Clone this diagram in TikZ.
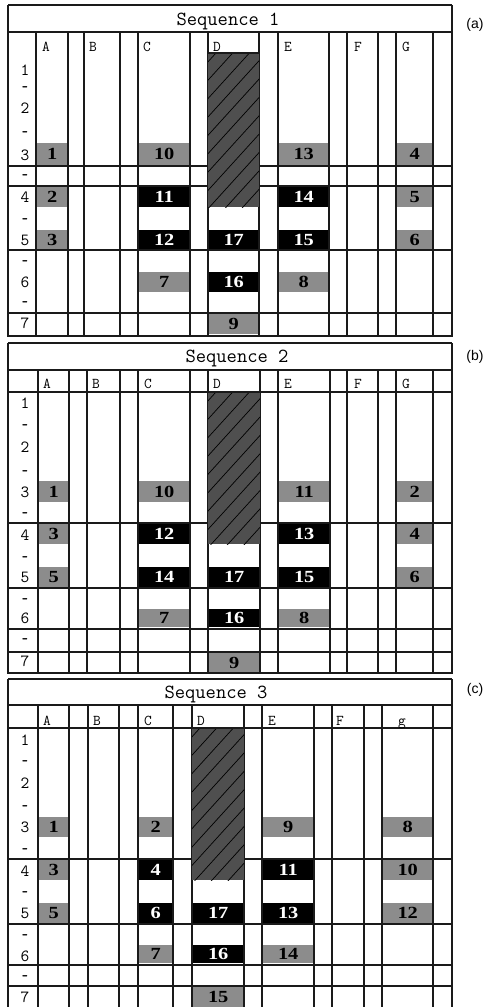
\documentclass[tikz,border=0pt]{standalone}
\usepackage{fontspec}
\setmainfont{Liberation Serif}
\newfontfamily\sansf{Liberation Sans}
\definecolor{cellgray}{HTML}{8C8C8C}
\definecolor{hatchgray}{HTML}{4F4F4F}
\definecolor{linecol}{HTML}{1A1A1A}
\tikzset{
 gridline/.style={draw=linecol, line width=1.1pt},
 borderline/.style={draw=linecol, line width=2pt},
 cellbase/.style={anchor=north west, inner sep=0pt, font=\fontsize{17}{17}\selectfont\bfseries},
 graycell/.style={cellbase, fill=cellgray, text=black},
 blackcell/.style={cellbase, fill=black, text=white},
 rowlab/.style={font=\ttfamily\fontsize{17}{17}\selectfont, text height=10.5pt, text depth=0pt, inner sep=0pt},
 collab/.style={font=\ttfamily\fontsize{15}{15}\selectfont, anchor=base west, inner sep=0pt},
 titletext/.style={font=\ttfamily\fontsize{20}{20}\selectfont, inner sep=0pt, anchor=base},
 panellab/.style={font=\sansf\fontsize{14}{14}\selectfont, inner sep=0pt},
}
\newcommand\dsh{\scalebox{0.7}[1.2]{-}}
\newcommand\mkcell[7]{\node[#1, minimum width={#4pt-#3pt}, minimum height={#6pt-#5pt}] (#2) at (#3,#5) {\scalebox{1.2}[1]{#7}};}
\newcommand\mkhatch[4]{%
 \begin{scope}
 \clip (#1,#3) rectangle (#2,#4);
 \fill[hatchgray] (#1,#3) rectangle (#2,#4);
 \foreach \k in {0,...,16} \draw[black, line width=0.7pt] ({#1+8+\k*16.7},#3) -- ++(-180,198);
 \end{scope}
 \draw[gridline] (#1,#3) -- (#2,#3);}
\begin{document}
\begin{tikzpicture}[x=1pt,y=-1pt]
\useasboundingbox (0,0) rectangle (487,1007);
\clip (0,0) rectangle (487,1007);

% ================= Panel 1 =================
\mkcell{graycell}{p1a3}{36}{68}{143}{165}{1}
\mkcell{graycell}{p1a4}{36}{68}{187}{207}{2}
\mkcell{graycell}{p1a5}{36}{68}{230}{249}{3}
\mkcell{graycell}{p1c3}{138}{190}{143}{165}{10}
\mkcell{blackcell}{p1c4}{138}{190}{187}{207}{11}
\mkcell{blackcell}{p1c5}{138}{190}{230}{249}{12}
\mkcell{graycell}{p1c6}{138}{190}{272}{292}{7}
\mkcell{blackcell}{p1d5}{208}{259}{230}{249}{17}
\mkcell{blackcell}{p1d6}{208}{259}{272}{292}{16}
\mkcell{graycell}{p1d7}{208}{259}{314}{334}{9}
\mkcell{graycell}{p1e3}{278}{329}{143}{165}{13}
\mkcell{blackcell}{p1e4}{278}{329}{187}{207}{14}
\mkcell{blackcell}{p1e5}{278}{329}{230}{249}{15}
\mkcell{graycell}{p1e6}{278}{329}{272}{292}{8}
\mkcell{graycell}{p1g3}{396}{433}{143}{165}{4}
\mkcell{graycell}{p1g4}{396}{433}{187}{207}{5}
\mkcell{graycell}{p1g5}{396}{433}{230}{249}{6}
\draw[gridline] (8,32) -- (452,32);
\foreach \x in {36,68,84,120,138,190,208,259,278,329,347,378,396,433} \draw[gridline] (\x,32) -- (\x,336);
\foreach \y in {166,186,250,313} \draw[gridline] (8,\y) -- (452,\y);
\draw[gridline, line width=1.5pt] (8,5) -- (452,5);
\draw[borderline] (8,5) -- (8,336) -- (452,336) -- (452,5);
\mkhatch{208}{259}{53}{207}
\node[titletext] (title1) at (228,25) {Sequence 1};
\node[panellab] (laba) at (475,25) {(a)};
\foreach \t/\x [count=\i] in {A/42,B/89,C/143,D/213,E/284,F/354,G/402} \node[collab] (p1col\i) at (\x,51) {\t};
\foreach \t/\y [count=\i] in {1/70,\dsh/88,2/108,\dsh/133,3/155,\dsh/176,4/197,\dsh/220,5/240,\dsh/262,6/282,\dsh/303,7/323} \node[rowlab] (p1row\i) at (25,\y) {\t};

% ================= Panel 2 =================
\mkcell{graycell}{p2a3}{38}{69}{481}{502}{1}
\mkcell{graycell}{p2a4}{38}{69}{524}{544}{3}
\mkcell{graycell}{p2a5}{38}{69}{567}{587}{5}
\mkcell{graycell}{p2c3}{138}{190}{481}{502}{10}
\mkcell{blackcell}{p2c4}{138}{190}{524}{544}{12}
\mkcell{blackcell}{p2c5}{138}{190}{567}{587}{14}
\mkcell{graycell}{p2c6}{138}{190}{609}{627}{7}
\mkcell{blackcell}{p2d5}{208}{260}{567}{587}{17}
\mkcell{blackcell}{p2d6}{208}{260}{609}{627}{16}
\mkcell{graycell}{p2d7}{208}{260}{653}{672}{9}
\mkcell{graycell}{p2e3}{278}{330}{481}{502}{11}
\mkcell{blackcell}{p2e4}{278}{330}{524}{544}{13}
\mkcell{blackcell}{p2e5}{278}{330}{567}{587}{15}
\mkcell{graycell}{p2e6}{278}{330}{609}{627}{8}
\mkcell{graycell}{p2g3}{396}{433}{481}{502}{2}
\mkcell{graycell}{p2g4}{396}{433}{524}{544}{4}
\mkcell{graycell}{p2g5}{396}{433}{567}{587}{6}
\draw[gridline] (8,370) -- (452,370);
\foreach \x in {38,69,87,120,138,190,208,260,278,330,347,378,396,433} \draw[gridline] (\x,370) -- (\x,673);
\foreach \y in {392,523,588,629,652} \draw[gridline] (8,\y) -- (452,\y);
\draw[gridline, line width=1.5pt] (8,343) -- (452,343);
\draw[borderline] (8,343) -- (8,673) -- (452,673) -- (452,343);
\mkhatch{208}{260}{392}{544}
\node[titletext] (title2) at (237,362) {Sequence 2};
\node[panellab] (labb) at (475,357) {(b)};
\foreach \t/\x [count=\i] in {A/43,B/92,C/144,D/213,E/284,F/354,G/402} \node[collab] (p2col\i) at (\x,388) {\t};
\foreach \t/\y [count=\i] in {1/403,\dsh/426,2/447,\dsh/472,3/492,\dsh/514,4/535,\dsh/558,5/577,\dsh/600,6/618,\dsh/640,7/661} \node[rowlab] (p2row\i) at (25,\y) {\t};

% ================= Panel 3 =================
\mkcell{graycell}{p3a3}{38}{69}{817}{837}{1}
\mkcell{graycell}{p3a4}{38}{69}{860}{880}{3}
\mkcell{graycell}{p3a5}{38}{69}{903}{923}{5}
\mkcell{graycell}{p3c3}{138}{173}{817}{837}{2}
\mkcell{blackcell}{p3c4}{138}{173}{860}{880}{4}
\mkcell{blackcell}{p3c5}{138}{173}{903}{923}{6}
\mkcell{graycell}{p3c6}{138}{173}{945}{963}{7}
\mkcell{blackcell}{p3d5}{192}{244}{903}{923}{17}
\mkcell{blackcell}{p3d6}{192}{244}{945}{963}{16}
\mkcell{graycell}{p3d7}{192}{244}{987}{1007}{15}
\mkcell{graycell}{p3e3}{262}{314}{817}{837}{9}
\mkcell{blackcell}{p3e4}{262}{314}{860}{880}{11}
\mkcell{blackcell}{p3e5}{262}{314}{903}{923}{13}
\mkcell{graycell}{p3e6}{262}{314}{945}{963}{14}
\mkcell{graycell}{p3g3}{382}{433}{817}{837}{8}
\mkcell{graycell}{p3g4}{382}{433}{860}{880}{10}
\mkcell{graycell}{p3g5}{382}{433}{903}{923}{12}
\draw[gridline] (8,705) -- (452,705);
\foreach \x in {38,69,88,119,138,173,192,244,262,314,332,364,382,433} \draw[gridline] (\x,705) -- (\x,1012);
\foreach \y in {728,859,924,965,986} \draw[gridline] (8,\y) -- (452,\y);
\draw[gridline, line width=1.5pt] (8,679) -- (452,679);
\draw[borderline] (8,679) -- (8,1012) -- (452,1012) -- (452,679);
\mkhatch{192}{244}{728}{880}
\node[titletext] (title3) at (216,698) {Sequence 3};
\node[panellab] (labc) at (475,690) {(c)};
\foreach \t/\x [count=\i] in {A/43,B/93,C/144,D/197,E/268,F/336,g/398} \node[collab] (p3col\i) at (\x,725) {\t};
\foreach \t/\y [count=\i] in {1/740,\dsh/762,2/783,\dsh/807,3/827,\dsh/850,4/871,\dsh/893,5/913,\dsh/936,6/956,\dsh/977,7/997} \node[rowlab] (p3row\i) at (25,\y) {\t};
\end{tikzpicture}
\end{document}
